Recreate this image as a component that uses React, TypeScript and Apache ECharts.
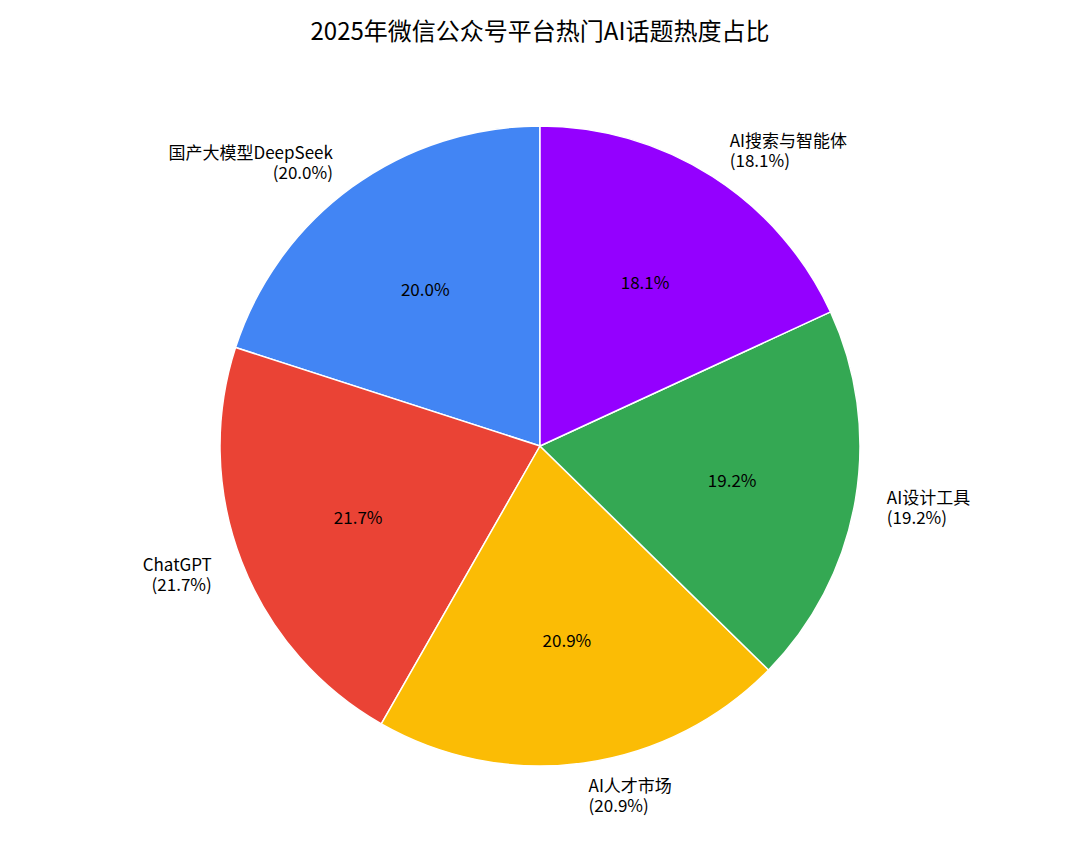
import { useEffect, useRef } from 'react';
import * as echarts from 'echarts';

// 话题名称与热度占比（%）
const topics = ['国产大模型DeepSeek', 'ChatGPT', 'AI人才市场', 'AI设计工具', 'AI搜索与智能体'];
const shares = [20.0, 21.7, 20.9, 19.2, 18.1];
const colors = ['#4285F4', '#EA4335', '#FBBC05', '#34A853', '#9400FF'];

const FONT = '"Noto Sans CJK SC", "Noto Sans", sans-serif';

const App: React.FC = () => {
  const chartRef = useRef<HTMLDivElement>(null);

  useEffect(() => {
    if (!chartRef.current) return;
    const chart = echarts.init(chartRef.current, undefined, { renderer: 'svg' });

    const seriesData = topics.map((name, i) => ({
      name,
      value: shares[i],
      itemStyle: { color: colors[i] },
    }));

    const option = {
      animation: false,
      title: {
        text: '2025年微信公众号平台热门AI话题热度占比',
        left: 'center',
        top: 12,
        textStyle: { fontSize: 24, fontWeight: 'normal', color: '#000', fontFamily: FONT },
      },
      series: [
        {
          // 扇区与外部标签
          type: 'pie',
          center: [540, 446],
          radius: 320,
          startAngle: 90,
          clockwise: false,
          avoidLabelOverlap: false,
          itemStyle: { borderColor: '#fff', borderWidth: 1.5 },
          label: {
            show: true,
            position: 'outside',
            formatter: (p: any) => `${p.name}\n(${p.value.toFixed(1)}%)`,
            fontSize: 17,
            lineHeight: 20,
            color: '#000',
            fontFamily: FONT,
            distanceToLabelLine: 0,
          },
          labelLine: { show: false, length: 32, length2: 0 },
          emphasis: { disabled: true },
          data: seriesData,
        },
        {
          // 内部百分比标签（0.6 半径处）
          type: 'pie',
          center: [540, 446],
          radius: [64, 320],
          startAngle: 90,
          clockwise: false,
          silent: true,
          itemStyle: { color: 'transparent', borderWidth: 0 },
          label: {
            show: true,
            position: 'inside',
            formatter: (p: any) => `${p.value.toFixed(1)}%`,
            fontSize: 17,
            color: '#000',
            fontFamily: FONT,
          },
          labelLine: { show: false },
          emphasis: { disabled: true },
          data: topics.map((name, i) => ({ name, value: shares[i] })),
        },
      ],
    };

    chart.setOption(option);

    return () => {
      chart.dispose();
    };
  }, []);

  return (
    <div
      ref={chartRef}
      style={{ position: 'absolute', left: 0, top: 0, width: 1080, height: 864, background: '#fff' }}
    />
  );
};

export default App;
